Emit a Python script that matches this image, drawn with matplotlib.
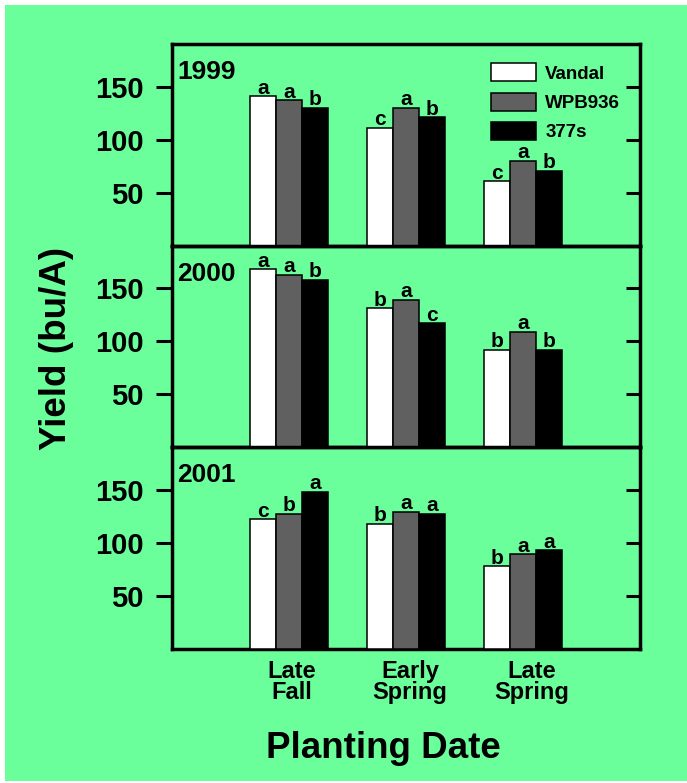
import matplotlib
matplotlib.use("Agg")
import matplotlib.pyplot as plt
from matplotlib.patches import Rectangle, Patch
import matplotlib.transforms as mtransforms
import numpy as np

plt.rcParams['font.family'] = ['Liberation Sans', 'DejaVu Sans']
plt.rcParams['font.weight'] = 'bold'

# ---- data ----
dates = ["Late\nFall", "Early\nSpring", "Late\nSpring"]
varieties = ["Vandal", "WPB936", "377s"]
years = ["1999", "2000", "2001"]

vandal_1999 = [141, 111, 61]
wpb936_1999 = [137, 130, 80]
s377_1999 = [130, 121, 71]
letters_1999 = [["a", "c", "c"], ["a", "a", "a"], ["b", "b", "b"]]

vandal_2000 = [168, 131, 92]
wpb936_2000 = [163, 139, 109]
s377_2000 = [158, 117, 92]
letters_2000 = [["a", "b", "b"], ["a", "a", "a"], ["b", "c", "b"]]

vandal_2001 = [122, 118, 78]
wpb936_2001 = [127, 129, 89]
s377_2001 = [148, 127, 93]
letters_2001 = [["c", "b", "b"], ["b", "a", "a"], ["a", "a", "a"]]

yticks = [50, 100, 150]

panels = [
    (years[0], [vandal_1999, wpb936_1999, s377_1999], letters_1999),
    (years[1], [vandal_2000, wpb936_2000, s377_2000], letters_2000),
    (years[2], [vandal_2001, wpb936_2001, s377_2001], letters_2001),
]

colors = ["white", "#606060", "black"]
green = "#6bff9c"

W, H = 687, 783
fig = plt.figure(figsize=(W / 100, H / 100), dpi=100, facecolor="white")
fig.patches.append(Rectangle((5 / W, 2 / H), 1 - 5 / W, 1 - 7 / H,
                             transform=fig.transFigure, facecolor=green,
                             edgecolor="none", zorder=-10))

left = 172 / W
width = (640 - 172) / W
tops = [44, 246, 447]
bottoms = [246, 447, 649]

x = np.arange(1, len(dates) + 1)
bw = 0.22

axes = []
for i, (yr, series, letters) in enumerate(panels):
    b = 1 - bottoms[i] / H
    h = (bottoms[i] - tops[i]) / H
    ax = fig.add_axes([left, b, width, h])
    ax.set_facecolor("none")
    ax.set_xlim(0, 4)
    ax.set_ylim(0, 190)
    for j, vals in enumerate(series):
        xs = x + (j - 1) * bw
        ax.bar(xs, vals, width=bw, color=colors[j], edgecolor="black",
               linewidth=1.1, label=varieties[j], zorder=3)
        for xx, v, lt in zip(xs, vals, letters[j]):
            ax.annotate(lt, (xx, v), xytext=(0, 1.8), textcoords="offset points",
                        ha="center", va="baseline", fontsize=15,
                        fontweight="bold")
    for s in ax.spines.values():
        s.set_linewidth(2.5)
    ax.set_yticks(yticks)
    ax.set_yticklabels([str(t) for t in yticks], fontsize=21, fontweight="bold")
    ax.tick_params(axis="y", direction="out", length=11.5, width=2.2, pad=9)
    ax2 = ax.twinx()
    ax2.set_ylim(ax.get_ylim())
    ax2.set_yticks(yticks)
    ax2.tick_params(axis="y", direction="in", length=10, width=2.2,
                    labelright=False)
    for s in ax2.spines.values():
        s.set_visible(False)
    ax.text(0.012, 0.825, yr, transform=ax.transAxes, fontsize=19,
            fontweight="bold", ha="left", va="baseline")
    if i < 2:
        ax.set_xticks([])
    else:
        ax.set_xticks(x)
        ax.set_xticklabels(dates, fontsize=17, fontweight="bold",
                           linespacing=0.9, ma="center")
        ax.tick_params(axis="x", length=0, pad=8)
        for lab, dx in zip(ax.get_xticklabels(), [3, 4, 9]):
            lab.set_transform(lab.get_transform() +
                              mtransforms.ScaledTranslation(dx / 100, 0,
                                                            fig.dpi_scale_trans))
    axes.append(ax)

handles = [Patch(facecolor=c, edgecolor="black", linewidth=1.1) for c in colors]
axes[0].legend(handles, varieties, loc="upper left",
               bbox_to_anchor=((490.6 - 181) / 468, (246 - 54) / 202),
               frameon=False, borderpad=0, handlelength=2.4, handleheight=1.1,
               handletextpad=0.5, labelspacing=0.52,
               prop={"size": 13.5, "weight": "bold"})

fig.text(383 / W, 1 - 758 / H, "Planting Date", fontsize=26.5,
         fontweight="bold", ha="center", va="baseline")
fig.text(56.5 / W, 1 - 348 / H, "Yield (bu/A)", fontsize=26.5,
         fontweight="bold", ha="center", va="center", rotation=90)

fig.savefig("out.png", dpi=100, facecolor="white")
